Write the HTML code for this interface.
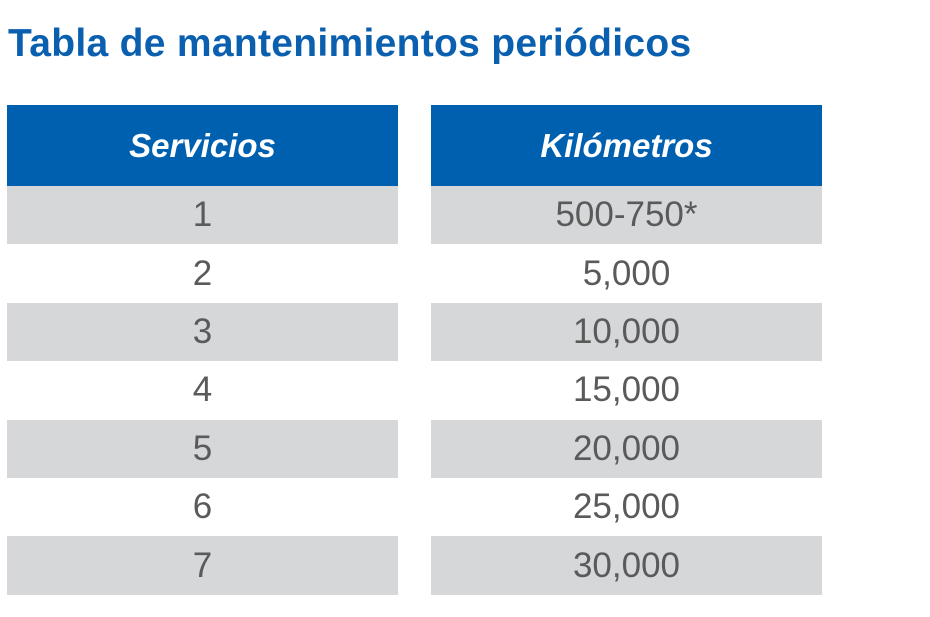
<!DOCTYPE html>
<html><head><meta charset="utf-8"><style>
body{margin:0;width:930px;height:617px;background:#fff;position:relative;overflow:hidden;font-family:"Liberation Sans",sans-serif}
h1{position:absolute;left:8px;top:22px;margin:0;font-size:39px;font-weight:bold;color:#0a5fae;letter-spacing:0.3px;white-space:nowrap}
.c{position:absolute;display:flex;align-items:center;justify-content:center;font-size:35px;color:#5a5a5a}
.h{background:#0060b0;color:#fff;font-weight:bold;font-style:italic;font-size:33px}
.g{background:#d6d7d9}
</style></head><body>
<h1>Tabla de mantenimientos periódicos</h1>
<div id="t"></div>
<script>
const servicios=["1","2","3","4","5","6","7"];
const kilometros=["500-750*","5,000","10,000","15,000","20,000","25,000","30,000"];
const cols=[{x:7,w:391},{x:431,w:391}];
const rowH=58.4,top0=186;
function cell(x,y,w,h,txt,cls,name){
  const d=document.createElement('div');
  d.className='c '+cls;
  d.style.left=x+'px';d.style.top=y+'px';d.style.width=w+'px';d.style.height=h+'px';
  d.textContent=txt;
  
  
  document.body.appendChild(d);
}
cell(cols[0].x,105,cols[0].w,81,"Servicios","h","header-servicios");
cell(cols[1].x,105,cols[1].w,81,"Kilómetros","h","header-kilometros");
servicios.forEach((s,i)=>{
  const y=top0+i*rowH, cls=i%2===0?'g':'';
  cell(cols[0].x,y,cols[0].w,rowH,s,cls,'servicio-cell-'+(i+1));
  cell(cols[1].x,y,cols[1].w,rowH,kilometros[i],cls,'kilometros-cell-'+(i+1));
});
</script>
</body></html>
